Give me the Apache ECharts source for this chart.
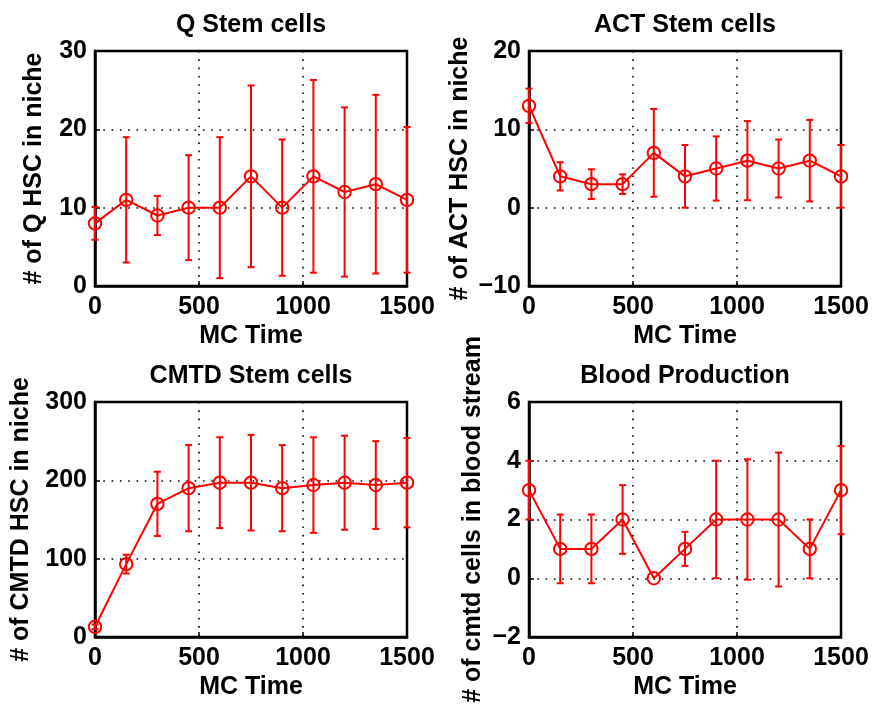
<!DOCTYPE html>
<html><head><meta charset="utf-8">
<script src="https://cdn.jsdelivr.net/npm/echarts@6/dist/echarts.min.js"></script>
<style>html,body{margin:0;padding:0;background:#fff}#c{width:874px;height:709px}</style>
</head><body><div id="c"></div>
<script>
const times = [0,150,300,450,600,750,900,1050,1200,1350,1500];
const qMean = [8,11,9,10,10,14,10,14,12,13,11];
const qErr = [2.1,8,2.5,6.7,9,11.6,8.7,12.3,10.8,11.4,9.3];
const actMean = [13,4,3,3,7,4,5,6,5,6,4];
const actErr = [2.2,1.8,1.9,1.25,5.6,4,4.1,5.05,3.7,5.2,4];
const cmtdMean = [13,93,170,190,197,197,190,194,197,194,197];
const cmtdErr = [3,12,41,55,58,61,55,61,60,56,57];
const bloodMean = [3,1,1,2,0,1,2,2,2,1,3];
const bloodErr = [1,1.17,1.17,1.17,0,0.58,2,2.05,2.28,1,1.5];

const titles = ['Q Stem cells','ACT Stem cells','CMTD Stem cells','Blood Production'];
const yNames = ['# of Q HSC in niche','# of ACT HSC in niche','# of CMTD HSC in niche','# of cmtd cells in blood stream'];
const yRanges = [[0,30,10],[-10,20,10],[0,300,100],[-2,6,2]];
const yGaps = [48,56,61,43];
const means = [qMean, actMean, cmtdMean, bloodMean];
const errs = [qErr, actErr, cmtdErr, bloodErr];

const FONT = 'Liberation Sans';
const FS = 25;
const RED = '#ff0000';
const gridPos = [
  {left:95, top:51, width:312, height:235},
  {left:529, top:51, width:312, height:235},
  {left:95, top:402, width:312, height:235},
  {left:529, top:402, width:312, height:235}
];

const chart = echarts.init(document.getElementById('c'));
const grids = [], xAxes = [], yAxes = [], series = [], graphics = [];
const gridLine = {show:true, lineStyle:{color:'#000', width:1.6, type:[1.6,6.7]}};
const fmt = v => String(v).replace('-', '\u2212');
for (let i = 0; i < 4; i++) {
  grids.push(Object.assign({show:true, borderColor:'#000', borderWidth:2.5, backgroundColor:'#fff'}, gridPos[i]));
  xAxes.push({
    type:'value', gridIndex:i, min:0, max:1500, interval:500,
    name:'MC Time', nameLocation:'middle', nameGap:38,
    nameTextStyle:{fontFamily:FONT, fontWeight:'bold', fontSize:FS, color:'#000'},
    axisLine:{show:true, onZero:false, lineStyle:{color:'#000', width:2.5}},
    axisTick:{show:true, inside:true, length:5, lineStyle:{color:'#000', width:1.5}},
    axisLabel:{fontFamily:FONT, fontWeight:'bold', fontSize:FS, color:'#000', margin:9, formatter:fmt},
    splitLine:gridLine
  });
  const r = yRanges[i];
  yAxes.push({
    type:'value', gridIndex:i, min:r[0], max:r[1], interval:r[2],
    name:yNames[i], nameLocation:'middle', nameGap:yGaps[i], nameRotate:90,
    nameTextStyle:{fontFamily:FONT, fontWeight:'bold', fontSize:FS, color:'#000'},
    axisLine:{show:true, onZero:false, lineStyle:{color:'#000', width:2.5}},
    axisTick:{show:true, inside:true, length:5, lineStyle:{color:'#000', width:1.5}},
    axisLabel:{fontFamily:FONT, fontWeight:'bold', fontSize:FS, color:'#000', margin:8, formatter:fmt},
    splitLine:gridLine
  });
  const pts = times.map((t, k) => [t, means[i][k], errs[i][k]]);
  series.push({
    type:'line', xAxisIndex:i, yAxisIndex:i, data:pts.map(p => [p[0], p[1]]),
    showSymbol:false, lineStyle:{color:RED, width:2}, itemStyle:{color:RED}, z:3, silent:true, clip:false
  });
  series.push({
    type:'custom', xAxisIndex:i, yAxisIndex:i, data:pts, z:4, silent:true, clip:false,
    renderItem:(params, api) => {
      const x = api.value(0), y = api.value(1), e = api.value(2);
      const c = api.coord([x, y]);
      const hi = api.coord([x, y + e]);
      const lo = api.coord([x, y - e]);
      const cw = 3.5;
      const st = {stroke:RED, lineWidth:2, fill:null};
      const ch = [
        {type:'circle', shape:{cx:c[0], cy:c[1], r:6.2}, style:{stroke:RED, lineWidth:2, fill:'none'}}
      ];
      if (e > 0) {
        ch.push({type:'line', shape:{x1:hi[0], y1:hi[1], x2:lo[0], y2:lo[1]}, style:st});
        ch.push({type:'line', shape:{x1:hi[0]-cw, y1:hi[1], x2:hi[0]+cw, y2:hi[1]}, style:st});
        ch.push({type:'line', shape:{x1:lo[0]-cw, y1:lo[1], x2:lo[0]+cw, y2:lo[1]}, style:st});
      }
      return {type:'group', children:ch};
    }
  });
  graphics.push({
    type:'text',
    x: gridPos[i].left + gridPos[i].width/2,
    y: gridPos[i].top - 26,
    style:{text:titles[i], fontFamily:FONT, fontWeight:'bold', fontSize:FS, fill:'#000',
      textAlign:'center', textVerticalAlign:'middle'}
  });
}

chart.setOption({
  animation:false,
  backgroundColor:'#fff',
  grid:grids, xAxis:xAxes, yAxis:yAxes, series:series, graphic:graphics
});
</script></body></html>
